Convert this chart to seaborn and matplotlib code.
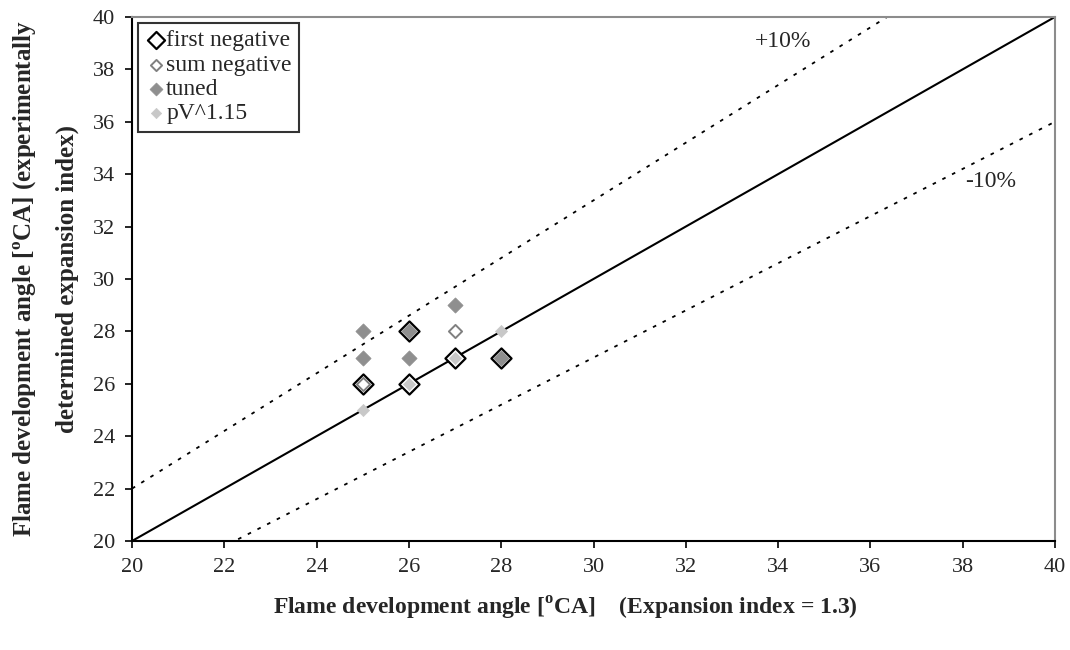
import matplotlib
matplotlib.use("Agg")
import matplotlib.pyplot as plt
import seaborn as sns
import numpy as np
import pandas as pd

# Data
first_neg_x = [25, 26, 27, 26, 28]
first_neg_y = [26, 26, 27, 28, 27]
sum_neg_x = [25, 27]
sum_neg_y = [26, 28]
tuned_x = [25, 25, 26, 27, 26, 28]
tuned_y = [28, 27, 27, 29, 28, 27]
pv_x = [25, 28, 27, 26]
pv_y = [25, 28, 27, 26]
x_ticks = list(range(20, 41, 2))
y_ticks = list(range(20, 41, 2))

sns.set_theme(style="white")
plt.rcParams['font.family'] = ['Liberation Serif', 'DejaVu Serif']
plt.rcParams['mathtext.fontset'] = 'custom'
plt.rcParams['mathtext.rm'] = 'Liberation Serif'
plt.rcParams['mathtext.bf'] = 'Liberation Serif:bold'

fig = plt.figure(figsize=(10.7, 6.5), dpi=100)
ax = fig.add_axes([0.1234, 0.1677, 0.986 - 0.1234, 0.974 - 0.1677])

# reference lines
lx = np.array([20, 40])
ax.plot(lx, lx, color='black', lw=1.5, zorder=1)
ax.plot(lx, 1.1 * lx, color='black', lw=1.3, ls=(0, (2, 4)), zorder=1)
ax.plot(lx, 0.9 * lx, color='black', lw=1.3, ls=(0, (2, 4)), zorder=1)

sns.scatterplot(x=first_neg_x, y=first_neg_y, marker='D', s=105, color='white',
                edgecolor='black', linewidth=1.6, ax=ax, label='first negative', zorder=3)
sns.scatterplot(x=sum_neg_x, y=sum_neg_y, marker='D', s=45, color='white',
                edgecolor='#808080', linewidth=1.4, ax=ax, label='sum negative', zorder=4)
sns.scatterplot(x=tuned_x, y=tuned_y, marker='D', s=60, color='#8f8f8f',
                edgecolor='#8f8f8f', linewidth=0.5, ax=ax, label='tuned', zorder=5)
sns.scatterplot(x=pv_x, y=pv_y, marker='D', s=38, color='#c8c8c8',
                edgecolor='#c8c8c8', linewidth=0.5, ax=ax, label='pV^1.15', zorder=6)

ax.set_xlim(20, 40)
ax.set_ylim(20, 40)
ax.set_xticks(x_ticks)
ax.set_yticks(y_ticks)
ax.tick_params(axis='both', direction='out', length=5, width=1.2, color='black',
               labelsize=16, bottom=True, left=True, pad=7)
for s in ['left', 'bottom']:
    ax.spines[s].set_color('black')
    ax.spines[s].set_linewidth(1.5)
for s in ['top', 'right']:
    ax.spines[s].set_color('#8c8c8c')
    ax.spines[s].set_linewidth(1.5)

ax.text(34.1, 39.05, '+10%', fontsize=17, ha='center', va='center')
ax.text(38.6, 33.7, '-10%', fontsize=17, ha='center', va='center')

ax.set_xlabel(r'Flame development angle [$^{\mathbf{o}}$CA]    (Expansion index = 1.3)',
              fontsize=17, fontweight='bold')
ax.xaxis.set_label_coords(0.469, -0.103)
ax.set_ylabel('Flame development angle [$^{\\mathbf{o}}$CA] (experimentally\ndetermined expansion index)',
              fontsize=18, fontweight='bold', labelpad=10, linespacing=1.95)

leg = ax.legend(loc='upper left', bbox_to_anchor=(0.0, 1.0), frameon=True, fancybox=False,
                edgecolor='black', fontsize=17, handletextpad=0.0, borderpad=0.3,
                labelspacing=0.12, handlelength=0.9, borderaxespad=0.25, markerscale=0.85)
leg.get_frame().set_linewidth(1.5)

fig.savefig('out.png', dpi=100)
